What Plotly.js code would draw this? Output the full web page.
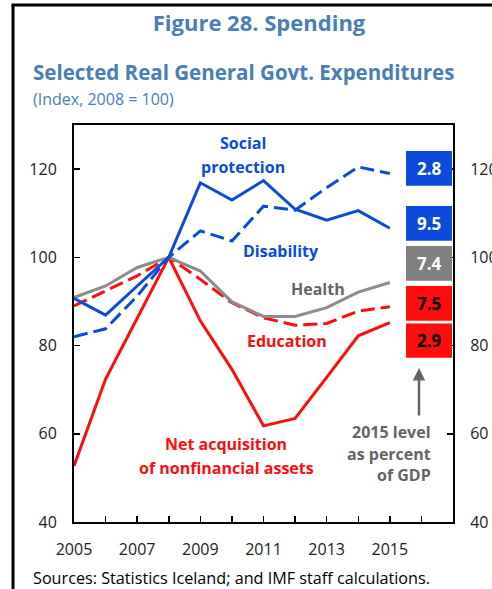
<!DOCTYPE html>
<html><head><meta charset="utf-8">
<script src="https://cdn.plot.ly/plotly-3.0.1.min.js"></script>
<style>html,body{margin:0;padding:0;background:#fff;}#c{width:492px;height:589px;}</style>
</head><body><div id="c"></div>
<script>
const years = [2005,2006,2007,2008,2009,2010,2011,2012,2013,2014,2015];
const socialProtection = [90.7,86.9,93.5,100,116.9,113.0,117.4,110.9,108.4,110.6,106.6];
const disability = [82.0,83.8,91.2,100,106.0,103.7,111.6,110.7,115.8,120.5,119.0];
const health = [90.9,93.5,97.7,100,96.9,89.9,86.6,86.6,88.6,92.1,94.3];
const education = [89.0,92.4,95.8,100,95.0,89.7,86.3,84.6,85.0,87.8,88.8];
const netAcquisition = [52.7,72.4,86.2,100,85.6,74.6,61.8,63.5,72.8,82.2,85.2];
const gdpShare2015 = [2.8, 9.5, 7.4, 7.5, 2.9];
const tickYears = [2005,2006,2007,2008,2009,2010,2011,2012,2013,2014,2015,2016,2017];
const tickLabels = ['2005','','2007','','2009','','2011','','2013','','2015','',''];

const BLUE='#0A4BDB', RED='#FF0D0D', GRAY='#8C8C8C', TITLE='#4A7EB5', DGRAY='#646464';
const FONT='Open Sans';
// pixel helpers (layout only)
const L=74,R=453,T=125,B=522;
const px2x = p => 2005 + (p-L)/(R-L)*12;
const py2y = p => 40 + (B-p)/(B-T)*90;
const pxp = p => (p-L)/(R-L);
const pyp = p => (B-p)/(B-T);

function line(y,color,dash){return {x:years,y:y,type:'scatter',mode:'lines',line:{color:color,width:3,dash:dash||'solid'},hoverinfo:'skip',showlegend:false};}
const traces=[
  line(education,RED,'14px,6px'),
  line(netAcquisition,RED),
  line(health,GRAY),
  line(disability,BLUE,'14px,6px'),
  line(socialProtection,BLUE),
  {x:[2005],y:[40],yaxis:'y2',type:'scatter',mode:'none',hoverinfo:'skip',showlegend:false}
];

const boxColors=[BLUE,BLUE,'#808080',RED,RED];
const boxText=['#fff','#fff','#fff','#000','#000'];
const boxTop=[151,206,246,286,323.5];
const boxBot=[185.7,240.7,280.7,320.7,357.7];
const shapes=[], annotations=[];
gdpShare2015.forEach((v,i)=>{
  shapes.push({type:'rect',xref:'x',yref:'y',x0:px2x(406),x1:px2x(452),y0:py2y(boxBot[i]),y1:py2y(boxTop[i]),fillcolor:boxColors[i],line:{width:0},layer:'above'});
  annotations.push({xref:'x',yref:'y',x:px2x(429),y:py2y((boxTop[i]+boxBot[i])/2),text:'<b>'+v.toFixed(1)+'</b>',showarrow:false,font:{family:FONT,size:17,color:boxText[i]},xanchor:'center',yanchor:'middle'});
});
// outer frame
shapes.push({type:'line',xref:'paper',yref:'paper',x0:pxp(13),x1:pxp(13),y0:pyp(5),y1:pyp(600),line:{color:'#000',width:3}});
shapes.push({type:'line',xref:'paper',yref:'paper',x0:pxp(11.5),x1:pxp(500),y0:pyp(5),y1:pyp(5),line:{color:'#000',width:3}});

function lab(text,cx,cy,color,anchor){annotations.push({xref:'x',yref:'y',x:px2x(cx),y:py2y(cy),text:'<b>'+text+'</b>',showarrow:false,font:{family:FONT,size:16,color:color},xanchor:anchor||'center',yanchor:'middle'});}
lab('Social',243,143,BLUE);
lab('protection',243,167,BLUE);
lab('Disability',281,251,BLUE);
lab('Health',318,289,DGRAY);
lab('Education',287,341,RED);
lab('Net acquisition',226,444,RED);
lab('of nonfinancial assets',226,468,RED);
lab('2015 level',433,432,DGRAY,'right');
lab('as percent',433,454,DGRAY,'right');
lab('of GDP',433,475,DGRAY,'right');
annotations.push({xref:'x',yref:'y',x:px2x(419),y:py2y(368),ax:px2x(419),ay:py2y(417),axref:'x',ayref:'y',text:'',showarrow:true,arrowhead:2,arrowsize:1,arrowwidth:2.5,arrowcolor:DGRAY});
annotations.push({xref:'paper',yref:'paper',x:pxp(31),y:pyp(72),text:'<b>Selected Real General Govt. Expenditures</b>',showarrow:false,xanchor:'left',yanchor:'middle',font:{family:FONT,size:20.5,color:TITLE}});
annotations.push({xref:'paper',yref:'paper',x:pxp(31),y:pyp(99),text:'(Index, 2008 = 100)',showarrow:false,xanchor:'left',yanchor:'middle',font:{family:FONT,size:16,color:TITLE}});
annotations.push({xref:'paper',yref:'paper',x:pxp(31),y:pyp(578),text:'Sources: Statistics Iceland; and IMF staff calculations.',showarrow:false,xanchor:'left',yanchor:'middle',font:{family:FONT,size:16.2,color:'#000'}});

const layout={
  width:492,height:589,
  margin:{l:L,r:492-R,t:T,b:589-B,pad:0},
  paper_bgcolor:'#fff',plot_bgcolor:'#fff',
  font:{family:FONT,size:16,color:'#222'},
  title:{text:'<b>Figure 28. Spending</b>',x:259/492,xanchor:'center',xref:'container',y:1-23/589,yanchor:'middle',yref:'container',font:{family:FONT,size:22,color:TITLE}},
  xaxis:{range:[2005,2017],tickmode:'array',tickvals:tickYears,ticktext:tickLabels,ticks:'inside',ticklen:6,tickcolor:'#000',tickwidth:1.5,ticklabelstandoff:12,showline:true,linecolor:'#000',linewidth:2,mirror:true,showgrid:false,zeroline:false,tickfont:{family:FONT,size:16,color:'#222'}},
  yaxis:{range:[40,130],tickvals:[40,60,80,100,120],ticks:'inside',ticklen:6,tickcolor:'#000',tickwidth:1.5,ticklabelstandoff:12,showline:true,linecolor:'#000',linewidth:2,showgrid:false,zeroline:false,tickfont:{family:FONT,size:16,color:'#222'}},
  yaxis2:{range:[40,130],tickvals:[40,60,80,100,120],overlaying:'y',side:'right',ticks:'inside',ticklen:6,tickcolor:'#000',tickwidth:1.5,ticklabelstandoff:12,showline:true,linecolor:'#000',linewidth:2,showgrid:false,zeroline:false,tickfont:{family:FONT,size:16,color:'#222'}},
  shapes:shapes,annotations:annotations,showlegend:false
};
Plotly.newPlot('c',traces,layout,{staticPlot:true,displayModeBar:false});
</script></body></html>
